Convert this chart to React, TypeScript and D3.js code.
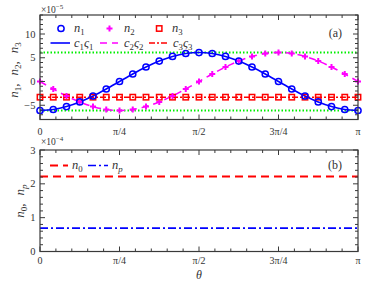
import React from 'react';
import * as d3 from 'd3';

// theta sample steps (theta = step * PI / 24)
const thetaSteps = [0,1,2,3,4,5,6,7,8,9,10,11,12,13,14,15,16,17,18,19,20,21,22,23,24];
// panel (a) series, units of 1e-5
const n1 = [-6.1,-5.89,-5.28,-4.31,-3.05,-1.58,0,1.58,3.05,4.31,5.28,5.89,6.1,5.89,5.28,4.31,3.05,1.58,0,-1.58,-3.05,-4.31,-5.28,-5.89,-6.1];
const n2 = [0,-1.58,-3.05,-4.31,-5.28,-5.89,-6.1,-5.89,-5.28,-4.31,-3.05,-1.58,0,1.58,3.05,4.31,5.28,5.89,6.1,5.89,5.28,4.31,3.05,1.58,0];
const n3 = [-3.3,-3.3,-3.3,-3.3,-3.3,-3.3,-3.3,-3.3,-3.3,-3.3,-3.3,-3.3,-3.3,-3.3,-3.3,-3.3,-3.3,-3.3,-3.3,-3.3,-3.3,-3.3,-3.3,-3.3,-3.3];
const bounds = [6.1, -6.1];
// panel (b), units of 1e-4
const n0Value = [2.22];
const npValue = [0.69];
const xTickValues = [0, Math.PI / 4, Math.PI / 2, 3 * Math.PI / 4, Math.PI];
const xTickLabels = ['0', 'π/4', 'π/2', '3π/4', 'π'];
const yTicksA = [-5, 0, 5, 10];
const yTicksB = [0, 1, 2, 3];

const W = 374, H = 281;
const X0 = 40, X1 = 358;
const FONT = '"Liberation Serif", "DejaVu Serif", serif';
const AX = '#3a3a3a';
const TXT = '#333';

const x = d3.scaleLinear().domain([0, Math.PI]).range([X0, X1]);
const yA = d3.scaleLinear().domain([-8, 14]).range([119.5, 15]);
const yB = d3.scaleLinear().domain([0, 3]).range([251.5, 150]);

const theta = thetaSteps.map((s) => (s * Math.PI) / 24);

function Frame({ y, majors, minors, top, bottom }: any) {
  const xMinor = d3.range(0, 21).map((i) => (i * Math.PI) / 20);
  const els: any[] = [];
  xMinor.forEach((v, i) => {
    const isMaj = i % 5 === 0;
    const L = isMaj ? 5 : 3;
    els.push(<line key={'xb' + i} x1={x(v)} x2={x(v)} y1={bottom} y2={bottom - L} stroke={AX} />);
    els.push(<line key={'xt' + i} x1={x(v)} x2={x(v)} y1={top} y2={top + L} stroke={AX} />);
  });
  minors.forEach((v: number, i: number) => {
    const isMaj = majors.some((m: number) => Math.abs(m - v) < 1e-9);
    const L = isMaj ? 5 : 3;
    els.push(<line key={'yl' + i} x1={X0} x2={X0 + L} y1={y(v)} y2={y(v)} stroke={AX} />);
    els.push(<line key={'yr' + i} x1={X1} x2={X1 - L} y1={y(v)} y2={y(v)} stroke={AX} />);
  });
  return (
    <g>
      {els}
      <rect x={X0} y={top} width={X1 - X0} height={bottom - top} fill="none" stroke={AX} strokeWidth={1.2} />
      {majors.map((m: number) => (
        <text key={'yt' + m} x={35.5} y={y(m) + 3.5} textAnchor="end" fontSize={10.5} fontFamily={FONT} fill={TXT}>
          {m < 0 ? '−' + Math.abs(m) : String(m)}
        </text>
      ))}
    </g>
  );
}

function XLabels({ yPos }: any) {
  return (
    <g>
      {xTickValues.map((v, i) => (
        <text key={i} x={x(v)} y={yPos} textAnchor="middle" fontSize={10} fontFamily={FONT} fill={TXT}>
          {xTickLabels[i]}
        </text>
      ))}
    </g>
  );
}

function Sub({ base, sub, x: tx, y: ty, size = 12.5, subItalic = false }: any) {
  return (
    <text x={tx} y={ty} fontSize={size} fontFamily={FONT} fill={TXT}>
      <tspan fontStyle="italic">{base}</tspan>
      <tspan fontSize={size * 0.7} dy={size * 0.25} fontStyle={subItalic ? 'italic' : 'normal'}>{sub}</tspan>
    </text>
  );
}

function CS({ k, x: tx, y: ty }: any) {
  return (
    <text x={tx} y={ty} fontSize={12.5} fontFamily={FONT} fill={TXT}>
      <tspan fontStyle="italic">c</tspan><tspan fontSize={8.8} dy={3}>{k}</tspan>
      <tspan fontStyle="italic" dy={-3}>ς</tspan><tspan fontSize={8.8} dy={3}>{k}</tspan>
    </text>
  );
}

export default function App() {
  const lineA = (vals: number[]) =>
    d3.line<number>().x((_, i) => x(theta[i])).y((d) => yA(d)).curve(d3.curveCatmullRom)(vals) || '';

  const plusPath = (cx: number, cy: number, s: number) => `M${cx - s},${cy}H${cx + s}M${cx},${cy - s}V${cy + s}`;

  const legA1 = 28.5, legA2 = 43;
  const legB = 165.5;

  return (
    <svg width={W} height={H} style={{ position: 'absolute', left: 0, top: 0, background: '#fff' }}>
      <rect x={0} y={0} width={W} height={H} fill="#fff" />
      {/* Panel (a) */}
      <g>
        {bounds.map((b, i) => (
          <line key={'g' + i} x1={X0} x2={X1} y1={yA(b)} y2={yA(b)} stroke="#00ee00" strokeWidth={2} strokeDasharray="1.5,2" />
        ))}
        <path d={lineA(n3)} fill="none" stroke="#ff0000" strokeWidth={1.6} strokeDasharray="6,2,2,2" />
        <path d={lineA(n2)} fill="none" stroke="#ff00ff" strokeWidth={1.6} strokeDasharray="7,5" />
        <path d={lineA(n1)} fill="none" stroke="#0000ff" strokeWidth={1.6} />
        {n3.map((v, i) => (
          <rect key={'s' + i} x={x(theta[i]) - 2.7} y={yA(v) - 2.7} width={5.4} height={5.4} fill="none" stroke="#ff0000" strokeWidth={1.5} />
        ))}
        {n2.map((v, i) => (
          <path key={'p' + i} d={plusPath(x(theta[i]), yA(v), 3)} stroke="#ff00ff" strokeWidth={2} />
        ))}
        {n1.map((v, i) => (
          <circle key={'c' + i} cx={x(theta[i])} cy={yA(v)} r={3.1} fill="none" stroke="#0000ff" strokeWidth={1.5} />
        ))}
        <Frame y={yA} majors={yTicksA} minors={d3.range(-8, 15)} top={15} bottom={119.5} />
        <XLabels yPos={134.5} />
        <text x={41} y={13} fontSize={9.5} fontFamily={FONT} fill={TXT}>×10<tspan fontSize={7} dy={-4.5}>−5</tspan></text>
        <text x={342} y={37} textAnchor="end" fontSize={12} fontFamily={FONT} fill={TXT}>(a)</text>
        <text transform={`translate(18,70) rotate(-90)`} textAnchor="middle" fontSize={13} fontFamily={FONT} fill={TXT}>
          <tspan fontStyle="italic">n</tspan><tspan fontSize={9} dy={3}>1</tspan><tspan dy={-3}>,</tspan>
          <tspan fontStyle="italic" dx={8}>n</tspan><tspan fontSize={9} dy={3}>2</tspan><tspan dy={-3}>,</tspan>
          <tspan fontStyle="italic" dx={8}>n</tspan><tspan fontSize={9} dy={3}>3</tspan>
        </text>
        {/* legend */}
        <circle cx={61} cy={legA1} r={3.1} fill="none" stroke="#0000ff" strokeWidth={1.5} />
        <Sub base="n" sub="1" x={74} y={legA1 + 3.5} />
        <path d={plusPath(109.5, legA1, 3)} stroke="#ff00ff" strokeWidth={2} />
        <Sub base="n" sub="2" x={124} y={legA1 + 3.5} />
        <rect x={156.5} y={legA1 - 2.7} width={5.4} height={5.4} fill="none" stroke="#ff0000" strokeWidth={1.5} />
        <Sub base="n" sub="3" x={172} y={legA1 + 3.5} />
        <line x1={50.5} x2={70} y1={legA2} y2={legA2} stroke="#0000ff" strokeWidth={1.6} />
        <CS k="1" x={74} y={legA2 + 3.5} />
        <line x1={100} x2={118} y1={legA2} y2={legA2} stroke="#ff00ff" strokeWidth={1.6} strokeDasharray="7,5" />
        <CS k="2" x={124} y={legA2 + 3.5} />
        <line x1={149} x2={168} y1={legA2} y2={legA2} stroke="#ff0000" strokeWidth={1.6} strokeDasharray="6,2,2,2" />
        <CS k="3" x={173} y={legA2 + 3.5} />
      </g>
      {/* Panel (b) */}
      <g>
        {n0Value.map((v, i) => (
          <line key={'n0' + i} x1={X0} x2={X1} y1={yB(v)} y2={yB(v)} stroke="#ff0000" strokeWidth={2} strokeDasharray="8,5" />
        ))}
        {npValue.map((v, i) => (
          <line key={'np' + i} x1={X0} x2={X1} y1={yB(v)} y2={yB(v)} stroke="#0000ff" strokeWidth={1.6} strokeDasharray="8,3,2,3" />
        ))}
        <Frame y={yB} majors={yTicksB} minors={d3.range(0, 16).map((i) => i * 0.2)} top={150} bottom={251.5} />
        <XLabels yPos={264} />
        <text x={41} y={145} fontSize={9.5} fontFamily={FONT} fill={TXT}>×10<tspan fontSize={7} dy={-4.5}>−4</tspan></text>
        <text x={342} y={169} textAnchor="end" fontSize={12} fontFamily={FONT} fill={TXT}>(b)</text>
        <text transform={`translate(24,201) rotate(-90)`} textAnchor="middle" fontSize={13} fontFamily={FONT} fill={TXT}>
          <tspan fontStyle="italic">n</tspan><tspan fontSize={9} dy={3}>0</tspan><tspan dy={-3}>,</tspan>
          <tspan fontStyle="italic" dx={8}>n</tspan><tspan fontSize={9} dy={3} fontStyle="italic">p</tspan>
        </text>
        <text x={199} y={279} textAnchor="middle" fontSize={12} fontStyle="italic" fontFamily={FONT} fill={TXT}>θ</text>
        <line x1={50} x2={68} y1={legB} y2={legB} stroke="#ff0000" strokeWidth={2} strokeDasharray="8,5" />
        <Sub base="n" sub="0" x={72} y={legB + 3.5} />
        <line x1={88} x2={108} y1={legB} y2={legB} stroke="#0000ff" strokeWidth={1.6} strokeDasharray="8,3,2,3" />
        <Sub base="n" sub="p" x={112} y={legB + 3.5} subItalic={true} />
      </g>
    </svg>
  );
}
